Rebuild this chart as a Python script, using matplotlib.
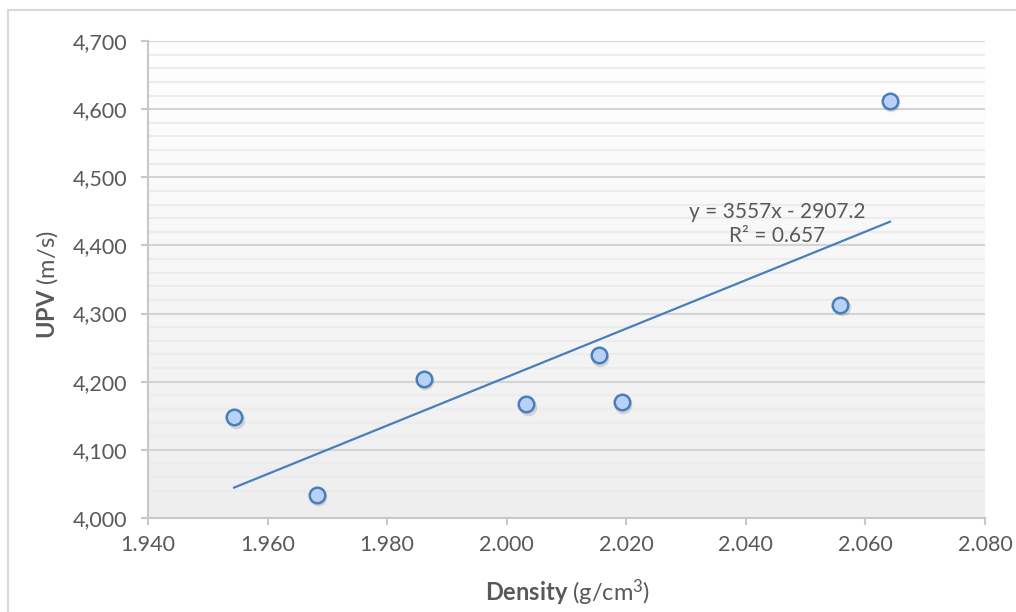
import numpy as np
import matplotlib
matplotlib.use("Agg")
import matplotlib.pyplot as plt
from matplotlib.lines import Line2D
from matplotlib.ticker import MultipleLocator, FuncFormatter
import matplotlib.transforms as mtransforms

# data
density = [1.9544, 1.9682, 1.9861, 2.0033, 2.0154, 2.0192, 2.0558, 2.0641]
upv = [4148, 4034, 4204, 4167, 4239, 4170, 4313, 4612]
slope = 3557
intercept = -2907.2
r2 = 0.657

plt.rcParams['font.family'] = ['Lato', 'DejaVu Sans']
plt.rcParams['mathtext.fontset'] = 'custom'
plt.rcParams['mathtext.rm'] = 'Lato'
plt.rcParams['mathtext.bf'] = 'Lato:bold'
plt.rcParams['mathtext.it'] = 'Lato:italic'

text_col = '#595959'
line_col = '#4a7ebb'

fig = plt.figure(figsize=(10.16, 6.12), dpi=100)
ax = fig.add_axes([148 / 1016, 94 / 612, 837 / 1016, 477 / 612])

# outer chart border (light gray)
fig.add_artist(Line2D([8 / 1016, 8 / 1016], [0, 602 / 612], transform=fig.transFigure, color='#d9d9d9', lw=1.5))
fig.add_artist(Line2D([8 / 1016, 1], [602 / 612, 602 / 612], transform=fig.transFigure, color='#d9d9d9', lw=1.5))

# gradient plot background
grad = np.linspace(0, 1, 256).reshape(-1, 1)
ax.imshow(grad, extent=[0, 1, 0, 1], transform=ax.transAxes, cmap=matplotlib.colors.LinearSegmentedColormap.from_list('g', ['#ffffff', '#eeeeee']),
          aspect='auto', zorder=0, origin='upper')

ax.set_xlim(1.940, 2.080)
ax.set_ylim(4000, 4700)
ax.xaxis.set_major_locator(MultipleLocator(0.02))
ax.yaxis.set_major_locator(MultipleLocator(100))
ax.yaxis.set_minor_locator(MultipleLocator(20))
ax.xaxis.set_major_formatter(FuncFormatter(lambda v, p: f"{v:.3f}"))
ax.yaxis.set_major_formatter(FuncFormatter(lambda v, p: f"{v:,.0f}"))

ax.grid(which='major', axis='y', color='#d4d4d4', lw=1.5, zorder=1)
ax.grid(which='minor', axis='y', color='#ececec', lw=1.5, zorder=1)
ax.set_axisbelow(True)

for s in ['top', 'right']:
    ax.spines[s].set_visible(False)
for s in ['left', 'bottom']:
    ax.spines[s].set_color('#c8c8c8')
    ax.spines[s].set_linewidth(1.5)

ax.tick_params(axis='y', which='major', direction='out', length=5, width=1.5, color='#c8c8c8',
               labelcolor=text_col, labelsize=15.5, pad=10)
ax.tick_params(axis='y', which='minor', length=0)
ax.tick_params(axis='x', direction='out', length=5, width=1.5, color='#c8c8c8',
               labelcolor=text_col, labelsize=15.5, pad=7)

# trend line
xt = np.array([min(density), max(density)])
ax.plot(xt, slope * xt + intercept, color=line_col, lw=1.6, zorder=3)

# marker shadow + markers
shadow = mtransforms.offset_copy(ax.transData, fig=fig, x=1.5, y=-2.5, units='dots')
ax.scatter(density, upv, s=160, color='#000000', alpha=0.12, lw=0, transform=shadow, zorder=4)
ax.scatter(density, upv, s=125, facecolor='#b9d1f7', edgecolor=line_col, lw=1.8, zorder=5)

ax.text(2.0453, 4431, f"y = {slope}x - {abs(intercept)}\nR² = {r2}", ha='center', va='center',
        multialignment='center', fontsize=15, color=text_col, linespacing=1.25, zorder=6)

ax.set_xlabel(r"$\mathbf{Density}$ (g/cm$^3$)", fontsize=17, color=text_col)
ax.set_ylabel(r"$\mathbf{UPV}$ (m/s)", fontsize=17, color=text_col)
ax.xaxis.set_label_coords(0.501, -0.125)
ax.yaxis.set_label_coords(-0.105, 0.49)

fig.savefig("out.png", dpi=100)
